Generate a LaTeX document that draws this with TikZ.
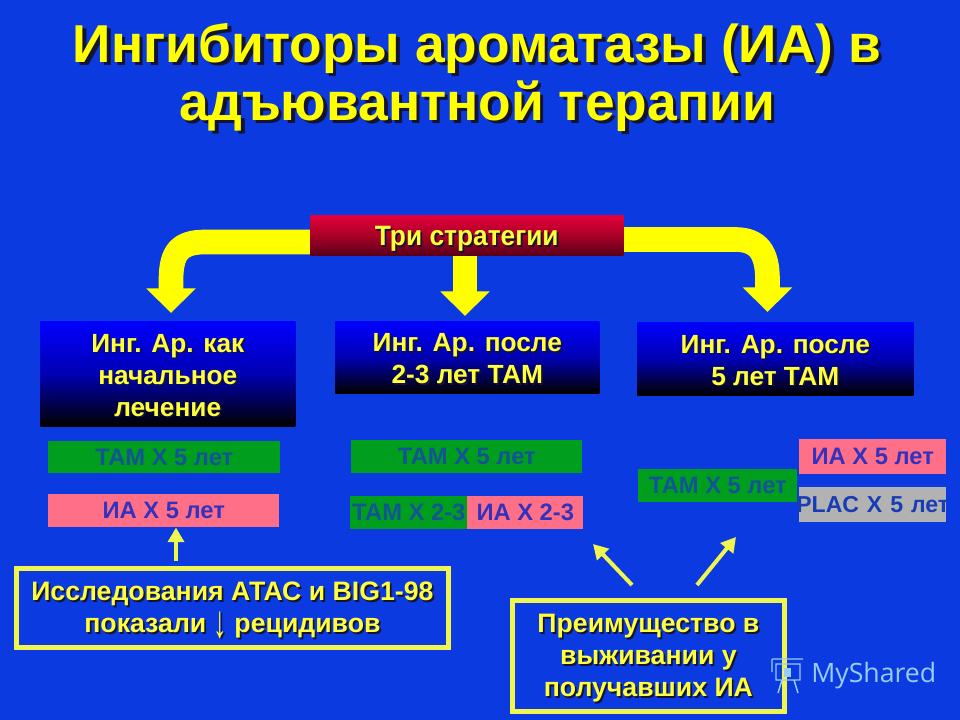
\documentclass[tikz,border=0pt]{standalone}
\usepackage{fontspec}
\usepackage{graphicx}
\setmainfont{Liberation Sans}
\newfontfamily\wmfont{Open Sans}
\usetikzlibrary{arrows.meta,shadings}
\definecolor{bgblue}{RGB}{10,58,224}
\definecolor{ylw}{RGB}{255,255,0}
\definecolor{paley}{RGB}{255,255,60}
\definecolor{frameY}{RGB}{240,245,80}
\definecolor{grn}{RGB}{0,158,30}
\definecolor{pnk}{RGB}{255,112,136}
\definecolor{gry}{RGB}{178,178,178}
\definecolor{tgrn}{RGB}{18,84,150}
\definecolor{tpnk}{RGB}{50,50,190}
\definecolor{tgry}{RGB}{24,60,180}
\definecolor{wm}{RGB}{150,205,250}
\definecolor{shadowc}{RGB}{20,20,50}
\definecolor{redtop}{RGB}{228,0,60}
\definecolor{redmid}{RGB}{170,0,40}
\definecolor{redbot}{RGB}{90,0,25}
\newcommand\sh[1]{\leavevmode\rlap{\raisebox{-.065em}{\kern.065em\textcolor{shadowc}{#1}}}#1}
\newcommand\topup{\rule{0pt}{17pt}}
\newcommand\frup{\rule{0pt}{18.5pt}}
\tikzset{
  x=0.75pt,y=-0.75pt,
  sz/.style 2 args={minimum width=#1*0.75pt,minimum height=#2*0.75pt,inner sep=0pt,anchor=north west},
  bar/.style={font=\bfseries\fontsize{17.8}{20}\selectfont},
  gbar/.style={bar,fill=grn,text=tgrn},
  pbar/.style={bar,fill=pnk,text=tpnk},
  sbar/.style={bar,fill=gry,text=tgry},
  head/.style={top color=blue,bottom color=black,middle color=blue!70!black,text=paley,align=center,font=\bfseries\fontsize{19.7}{24}\selectfont},
  frm/.style={draw=frameY,line width=3.6pt,text=paley,align=center,font=\bfseries\fontsize{20}{24}\selectfont,anchor=north west,inner sep=0pt},
  bigarrow/.style={draw=ylw,line width=18.5pt,-{Triangle[width=36pt,length=18.5pt]}},
  thin arrow/.style={draw=frameY,line width=3pt,-{Triangle[width=12pt,length=11pt]}},
}
\begin{document}
\begin{tikzpicture}
\useasboundingbox (0,0) rectangle (960,720);
\fill[bgblue] (0,0) rectangle (960,720);

\node[text=ylw,align=center,font=\bfseries\fontsize{40}{43.5}\selectfont] (title) at (477,79)
  {\sh{Ингибиторы ароматазы (ИА) в}\\\sh{адъювантной терапии}};

\coordinate (la) at (320,242);
\coordinate (ra) at (613,239.5);
\coordinate (ca) at (465,250);
\coordinate (ltip) at (171,313);
\coordinate (ctip) at (465,316);
\coordinate (rtip) at (767.5,312);
\draw[bigarrow] (la) -- (205,242) .. controls (180,242) and (171,252) .. (171,280) -- (ltip);
\draw[bigarrow] (ca) -- (ctip);
\draw[bigarrow] (ra) -- (735,239.5) .. controls (758,239.5) and (767.5,252) .. (767.5,280) -- (rtip);

\node[sz={313}{40},top color=redtop,bottom color=redbot,middle color=redmid,text=paley,font=\bfseries\fontsize{21}{24}\selectfont] (tri) at (310,215) {\rule{0pt}{21pt}\scalebox{.94}[1]{\sh{Три стратегии}}};

\node[sz={255}{105},head] (b1) at (40,321) {\topup\sh{Инг. Ар. как}\\\sh{начальное}\\\sh{лечение}};
\node[sz={264}{72},head] (b2) at (335,321) {\topup\sh{Инг. Ар. после}\\\sh{2-3 лет ТАМ}};
\node[sz={276}{73},head] (b3) at (637,322) {\topup\sh{Инг. Ар. после}\\\sh{5 лет ТАМ}};

\node[sz={232}{32},gbar] (g1) at (48,441) {ТАМ Х 5 лет};
\node[sz={231}{33},pbar] (p1) at (48,494) {ИА Х 5 лет};
\node[sz={231}{33},gbar] (g2) at (351,440) {ТАМ Х 5 лет};
\node[sz={117}{33},gbar] (g3) at (350,496) {ТАМ Х 2-3};
\node[sz={116}{33},pbar] (p3) at (467,496) {ИА Х 2-3};
\node[sz={159}{33},gbar] (g4) at (638,469) {ТАМ Х 5 лет};
\node[sz={147}{35},pbar] (p4) at (799,439) {ИА Х 5 лет};
\node[sz={147}{35},sbar,text width=110.25pt,align=center] (s4) at (799,487) {\makebox[110.25pt][c]{\fontsize{17.3}{20}\selectfont PLAC Х 5 лет}};

\node[frm,minimum width=432*.75pt,minimum height=79*.75pt] (f1) at (14,566)
  {\frup\sh{Исследования АТАС и BIG1-98}\\\sh{показали \raisebox{-3.5pt}{\mdseries\scalebox{1}[1.7]{↓}} рецидивов}};
\node[frm,minimum width=272*.75pt,minimum height=111*.75pt] (f2) at (510,598)
  {\frup\sh{Преимущество в}\\\sh{выживании у}\\\sh{получавших ИА}};

\coordinate (f1a) at (176,561);
\draw[draw=frameY,line width=3.6pt,-{Triangle[width=12pt,length=11pt]}] (f1a) -- (p1.south -| f1a);
\coordinate (d1s) at (632,585);
\coordinate (d1e) at (593,544);
\coordinate (d2s) at (697,585);
\coordinate (d2e) at (736,537);
\draw[thin arrow] (d1s) -- (d1e);
\draw[thin arrow] (d2s) -- (d2e);

\node[text=wm,font=\wmfont\fontsize{20}{24}\selectfont,anchor=west,inner sep=0pt] (wmt) at (811,676) {MyShared};
\draw[wm,line width=1.1pt] (772,659) -- (803,659) (776,664) rectangle (800,680) (782,680) -- (778,693) (794,680) -- (798,693) (772,659) -- (772,672);
\fill[wm] (784,668) rectangle (791,677);
\end{tikzpicture}
\end{document}
